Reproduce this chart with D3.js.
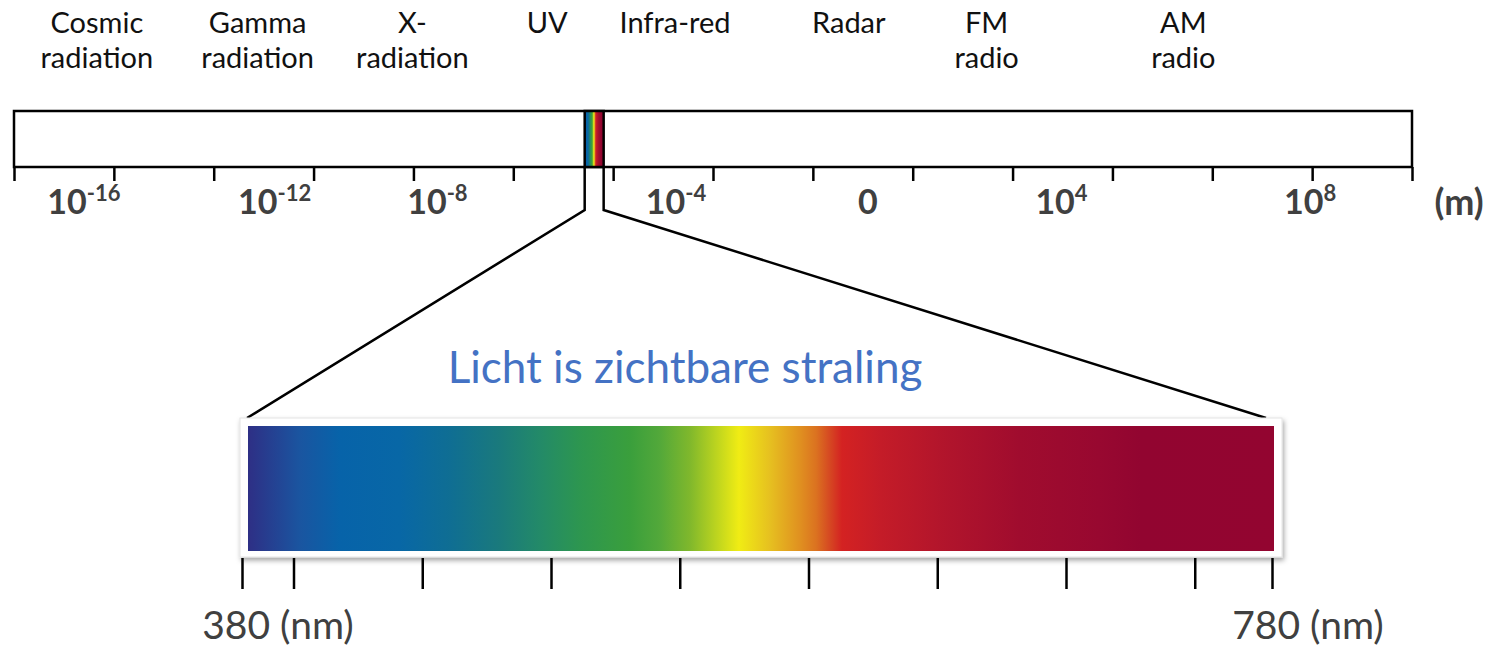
<!DOCTYPE html>
<html>
<head>
<meta charset="utf-8">
<script src="https://cdn.jsdelivr.net/npm/d3@7"></script>
<style>
  html, body { margin: 0; padding: 0; background: #fff; }
  svg { display: block; }
</style>
</head>
<body>
<svg id="chart" width="1497" height="646"></svg>
<script>
// ---------- DATA ----------
// band labels above the main bar (position in tick-index units along the bar)
const bandNames = [
  ["Cosmic", "radiation"],
  ["Gamma", "radiation"],
  ["X-", "radiation"],
  ["UV"],
  ["Infra-red"],
  ["Radar"],
  ["FM", "radio"],
  ["AM", "radio"]
];
const bandPos = [0.83, 2.44, 3.99, 5.34, 6.62, 8.36, 9.74, 11.71];

// main wavelength axis: 14 equal divisions
const mainTickCount = 14;
const expLabels = ["-16", "-12", "-8", "-4", "0", "4", "8"];
const expLabelPos = [0.70, 2.61, 4.24, 6.63, 8.55, 10.49, 12.98];
const unitLabel = "(m)";

// visible light band on the main axis (tick-index units)
const visibleBand = [5.715, 5.905];

// visible spectrum axis (nm)
const nmDomain = [380, 780];
const nmTicks = [380, 400, 450, 500, 550, 600, 650, 700, 750, 780];
const nmLabels = [380, 780];
const title = "Licht is zichtbare straling";

// colour stops of the visible spectrum (nm, colour)
const specNm = [382, 402.5, 418, 441, 461, 480, 495.7, 511, 530.7, 542, 554, 573, 585, 596.7, 603, 608, 613, 628, 655, 682, 713, 729, 781];
const specCol = ["#2e2f85", "#1a55a0", "#0763a9", "#0867a6", "#0f6e93", "#1a7a7c", "#238a68", "#2d9650", "#3a9f3c", "#52a83a", "#80b82c", "#f0ec14", "#e6c020", "#e09020", "#db7220", "#d64a22", "#d42222", "#c41c28", "#b0142c", "#a00c2e", "#980830", "#920530", "#930530"];

// ---------- DRAW ----------
const svg = d3.select("#chart");
const defs = svg.append("defs");
const FONT = "Lato, 'Open Sans', sans-serif";

const x = d3.scaleLinear().domain([0, mainTickCount]).range([14, 1412]);
const barTop = 111, barBottom = 167;

const nx = d3.scaleLinear().domain(nmDomain).range([242, 1272]);
const innerX0 = 248, innerX1 = 1274;

// gradients
const gBig = defs.append("linearGradient").attr("id", "specBig")
  .attr("gradientUnits", "userSpaceOnUse")
  .attr("x1", innerX0).attr("x2", innerX1).attr("y1", 0).attr("y2", 0);
gBig.selectAll("stop").data(specNm).join("stop")
  .attr("offset", d => Math.max(0, Math.min(1, (nx(d) - innerX0) / (innerX1 - innerX0))))
  .attr("stop-color", (d, i) => specCol[i]);

const gSmall = defs.append("linearGradient").attr("id", "specSmall")
  .attr("x1", 0).attr("x2", 1).attr("y1", 0).attr("y2", 0);
gSmall.selectAll("stop").data(specNm).join("stop")
  .attr("offset", d => (d - specNm[0]) / (specNm[specNm.length - 1] - specNm[0]))
  .attr("stop-color", (d, i) => specCol[i]);

const shadow = defs.append("filter").attr("id", "shadow")
  .attr("x", "-5%").attr("y", "-20%").attr("width", "110%").attr("height", "140%");
shadow.append("feDropShadow").attr("dx", 1.5).attr("dy", 3).attr("stdDeviation", 2.5)
  .attr("flood-color", "#000").attr("flood-opacity", 0.35);

// band labels
const bandG = svg.append("g").attr("font-family", FONT)
  .attr("font-size", 29).attr("fill", "#111");
bandNames.forEach((lines, i) => {
  const t = bandG.append("text").attr("text-anchor", "middle")
    .attr("x", x(bandPos[i])).attr("y", 33);
  lines.forEach((ln, j) => {
    t.append("tspan").attr("x", x(bandPos[i])).attr("dy", j === 0 ? 0 : 35).text(ln);
  });
});

// main bar
svg.append("rect").attr("x", x(0)).attr("y", barTop)
  .attr("width", x(mainTickCount) - x(0)).attr("height", barBottom - barTop)
  .attr("fill", "#fff").attr("stroke", "#000").attr("stroke-width", 2.5);

// main axis ticks
const axis = d3.axisBottom(x).tickValues(d3.range(0, mainTickCount + 1))
  .tickSize(14).tickFormat("");
const axG = svg.append("g").attr("transform", `translate(0,${barBottom})`).call(axis);
axG.select(".domain").remove();
axG.selectAll(".tick line").attr("stroke", "#000").attr("stroke-width", 2.5);

// exponent labels
const lblG = svg.append("g").attr("font-family", FONT)
  .attr("font-weight", "bold").attr("fill", "#404040");
expLabels.forEach((e, i) => {
  const t = lblG.append("text").attr("text-anchor", "middle")
    .attr("x", x(expLabelPos[i])).attr("y", 214).attr("font-size", 34);
  if (e === "0") {
    t.text("0");
  } else {
    t.append("tspan").text("10");
    t.append("tspan").attr("font-size", 22).attr("dy", -13).text(e);
  }
});
lblG.append("text").attr("x", 1459).attr("y", 215).attr("text-anchor", "middle")
  .attr("font-size", 36).text(unitLabel);

// zoom connector lines
const bendY = 210, frameTop = 418;
const lineGen = d3.line();
svg.append("path")
  .attr("d", lineGen([[x(visibleBand[0]), barBottom], [x(visibleBand[0]), bendY], [innerX0 - 1, frameTop]]))
  .attr("fill", "none").attr("stroke", "#000").attr("stroke-width", 2.5);
svg.append("path")
  .attr("d", lineGen([[x(visibleBand[1]), barBottom], [x(visibleBand[1]), bendY], [1266, frameTop]]))
  .attr("fill", "none").attr("stroke", "#000").attr("stroke-width", 2.5);

// small visible band in main bar
svg.append("rect").attr("x", x(visibleBand[0])).attr("y", barTop)
  .attr("width", x(visibleBand[1]) - x(visibleBand[0])).attr("height", barBottom - barTop)
  .attr("fill", "url(#specSmall)").attr("stroke", "#000").attr("stroke-width", 2.5);

// title
svg.append("text").attr("x", 685).attr("y", 383).attr("text-anchor", "middle")
  .attr("font-family", FONT).attr("font-size", 44)
  .attr("fill", "#4472c4").text(title);

// big spectrum frame
svg.append("rect").attr("x", 240).attr("y", frameTop).attr("width", 1042).attr("height", 139)
  .attr("fill", "#fff").attr("stroke", "#e4e4e4").attr("stroke-width", 1)
  .attr("filter", "url(#shadow)");
svg.append("rect").attr("x", innerX0).attr("y", 426).attr("width", innerX1 - innerX0).attr("height", 125)
  .attr("fill", "url(#specBig)");

// nm axis
const nAxis = d3.axisBottom(nx).tickValues(nmTicks).tickSize(31).tickFormat("");
const nG = svg.append("g").attr("transform", "translate(0,558)").call(nAxis);
nG.select(".domain").remove();
nG.selectAll(".tick line").attr("stroke", "#000").attr("stroke-width", 2.5);

svg.append("g").selectAll("text").data(nmLabels).join("text")
  .attr("x", d => nx(d) + 36).attr("y", 639).attr("text-anchor", "middle")
  .attr("font-family", FONT).attr("font-size", 39)
  .attr("fill", "#404040").text(d => `${d} (nm)`);
</script>
</body>
</html>
